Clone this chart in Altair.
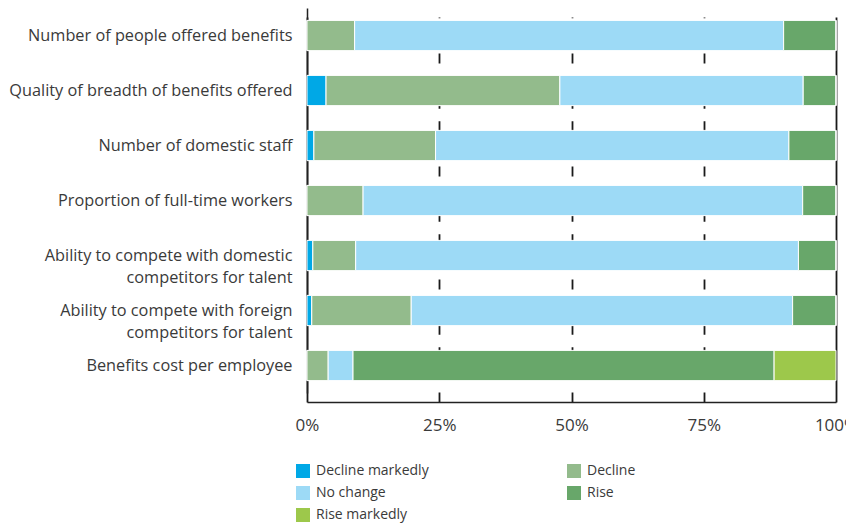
import altair as alt
import pandas as pd

categories = [
    "Number of people offered benefits",
    "Quality of breadth of benefits offered",
    "Number of domestic staff",
    "Proportion of full-time workers",
    "Ability to compete with domestic\ncompetitors for talent",
    "Ability to compete with foreign\ncompetitors for talent",
    "Benefits cost per employee",
]
responses = ["Decline markedly", "Decline", "No change", "Rise", "Rise markedly"]
colors = ["#00a8e6", "#93bb8c", "#9ddaf6", "#68a76a", "#9dc84b"]
# legend reads row by row in two columns
legend_order = ["Decline markedly", "No change", "Rise markedly", "Decline", "Rise"]
legend_colors = [colors[responses.index(r)] for r in legend_order]

decline_markedly = [0.0, 3.6, 1.3, 0.0, 1.1, 0.9, 0.0]
decline = [9.0, 44.2, 23.0, 10.6, 8.1, 18.8, 4.0]
no_change = [81.1, 46.0, 66.8, 83.1, 83.7, 72.1, 4.7]
rise = [9.9, 6.2, 8.9, 6.3, 7.1, 8.2, 79.6]
rise_markedly = [0.0, 0.0, 0.0, 0.0, 0.0, 0.0, 11.7]

series = [decline_markedly, decline, no_change, rise, rise_markedly]
rows = []
for k, (resp, vals) in enumerate(zip(responses, series)):
    for cat, v in zip(categories, vals):
        rows.append({"item": cat, "response": resp, "order": k, "value": v})
df = pd.DataFrame(rows)

tick_values = [0, 0.25, 0.5, 0.75, 1.0]

chart = alt.Chart(df).mark_bar(stroke="white", strokeWidth=1).encode(
    y=alt.Y(
        "item:N",
        sort=categories,
        title=None,
        scale=alt.Scale(range=[0, 385], paddingInner=0.45, paddingOuter=0.225),
        axis=alt.Axis(
            labelExpr="split(datum.value, '\\n')",
            labelFont="Open Sans",
            labelFontSize=16.3,
            labelColor="#3a3a3a",
            labelPadding=15,
            labelLimit=400,
            labelLineHeight=22,
            ticks=False,
            domainColor="#222222",
            domainWidth=1.5,
        ),
    ),
    x=alt.X(
        "value:Q",
        stack="normalize",
        title=None,
        scale=alt.Scale(domain=[0, 1], nice=False),
        axis=alt.Axis(
            values=tick_values,
            format=".0%",
            labelFont="Open Sans",
            labelFontSize=17,
            labelColor="#3a3a3a",
            labelPadding=15,
            labelFlush=False,
            ticks=False,
            grid=True,
            gridColor="#1a1a1a",
            gridWidth=1.8,
            gridDash=alt.condition(
                "datum.value == 0 || datum.value == 1",
                alt.value([]),
                alt.value([10, 12.6]),
            ),
            domainColor="#222222",
            domainWidth=1.5,
        ),
    ),
    color=alt.Color(
        "response:N",
        scale=alt.Scale(domain=legend_order, range=legend_colors),
        legend=alt.Legend(
            title=None,
            orient="none",
            legendX=-11,
            legendY=456,
            columns=2,
            columnPadding=138,
            rowPadding=8,
            symbolType="square",
            symbolSize=196,
            symbolStrokeWidth=0,
            symbolOffset=0,
            labelFont="Open Sans",
            labelFontSize=14,
            labelColor="#3a3a3a",
            labelOffset=6,
        ),
    ),
    order=alt.Order("order:Q"),
).properties(
    width=529,
    height=394,
    autosize=alt.AutoSizeParams(type="none"),
    padding={"left": 299, "top": 0, "right": 10, "bottom": 122},
).configure_view(stroke=None)

chart.save("out.html", embed_options={"renderer": "svg", "actions": False})
